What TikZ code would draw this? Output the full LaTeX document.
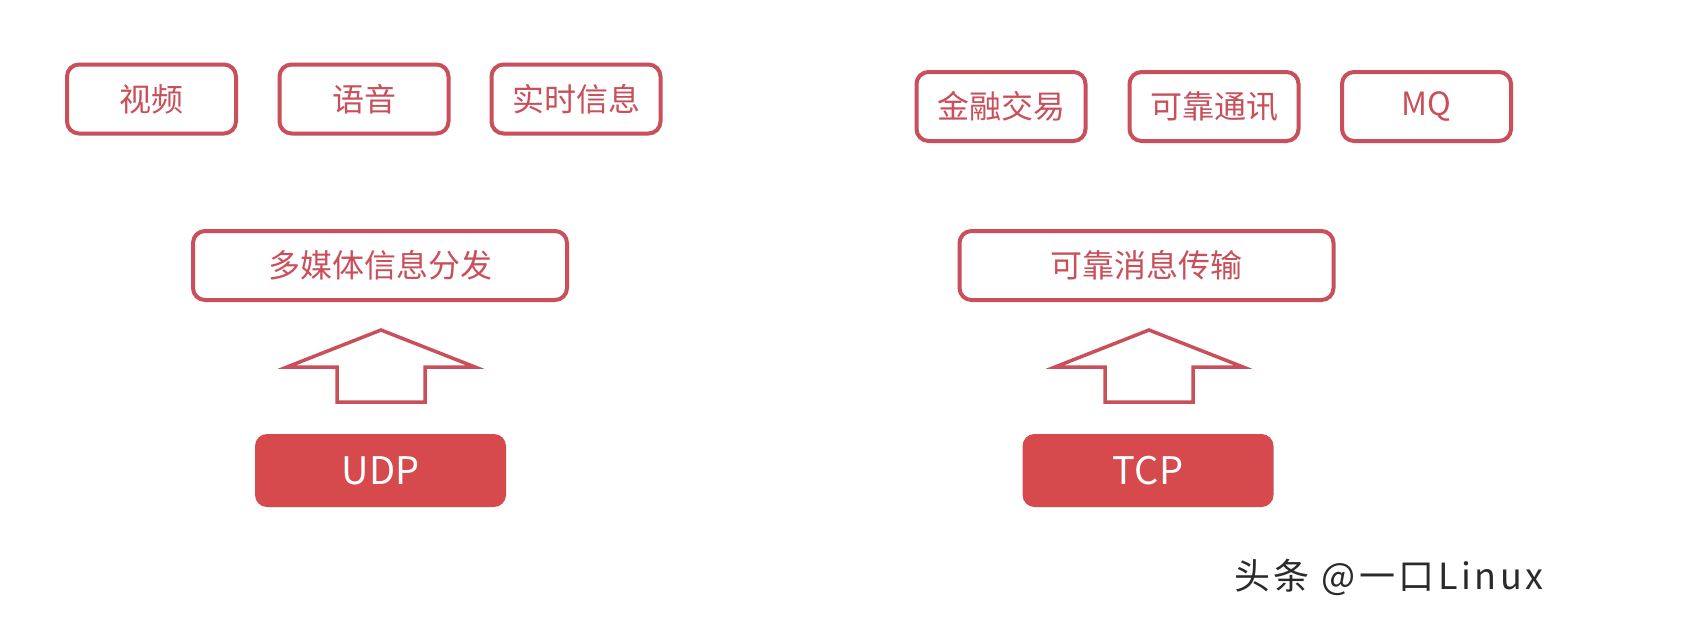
\documentclass[tikz,border=0pt]{standalone}
\usepackage{fontspec}
\setmainfont{Noto Sans CJK SC}
\definecolor{rline}{HTML}{C94F5A}
\definecolor{rfill}{HTML}{D64A4E}
\definecolor{wm}{HTML}{2A2A2A}
\begin{document}
\begin{tikzpicture}[x=1pt,y=-1pt,
  outbox/.style={draw=rline,line width=4pt,rounded corners=12pt,fill=white,
    text=rline,font=\fontsize{32}{36}\selectfont,inner sep=0pt},
  smallbox/.style={outbox,minimum width=169pt,minimum height=69pt},
  widebox/.style={outbox,minimum width=374pt,minimum height=69pt},
  protobox/.style={fill=rfill,rounded corners=12pt,text=white,
    font=\fontsize{38}{42}\selectfont,minimum width=251pt,minimum height=73pt,inner sep=0pt},
  blockarrow/.style={draw=rline,line width=3.5pt,fill=white,line join=miter,miter limit=20}
]
\useasboundingbox (0,0) rectangle (1690,619);
\fill[white] (0,0) rectangle (1690,619);
% top row left
\node[smallbox] (video) at (151.5,99) {视频};
\node[smallbox] (voice) at (364,99) {语音};
\node[smallbox] (rt) at (576,99) {实时信息};
% top row right
\node[smallbox] (fin) at (1001,106.5) {金融交易};
\node[smallbox] (rel) at (1214,106.5) {可靠通讯};
\node[smallbox] (mq) at (1426.5,106.5) {MQ};
% middle
\node[widebox] (multi) at (380,265.5) {多媒体信息分发};
\node[widebox] (relmsg) at (1146.5,265.5) {可靠消息传输};
% protocols
\node[protobox] (udp) at (380.5,470.5) {UDP};
\node[protobox] (tcp) at (1148,470.5) {TCP};
% block arrows
\coordinate (tipL) at (381,330);
\coordinate (tipR) at (1149,330);
\foreach \t in {tipL,tipR}{
  \draw[blockarrow] (\t) -- ++(94,37) -- ++(-50,0) -- ++(0,35) -- ++(-88,0)
    -- ++(0,-35) -- ++(-50,0) -- cycle;
}
% watermark
\node[text=wm,font=\fontsize{36}{40}\selectfont\addfontfeature{LetterSpace=10},anchor=west,inner sep=0pt] (mark) at (1234,577) {头条 @一口Linux};
\end{tikzpicture}
\end{document}
